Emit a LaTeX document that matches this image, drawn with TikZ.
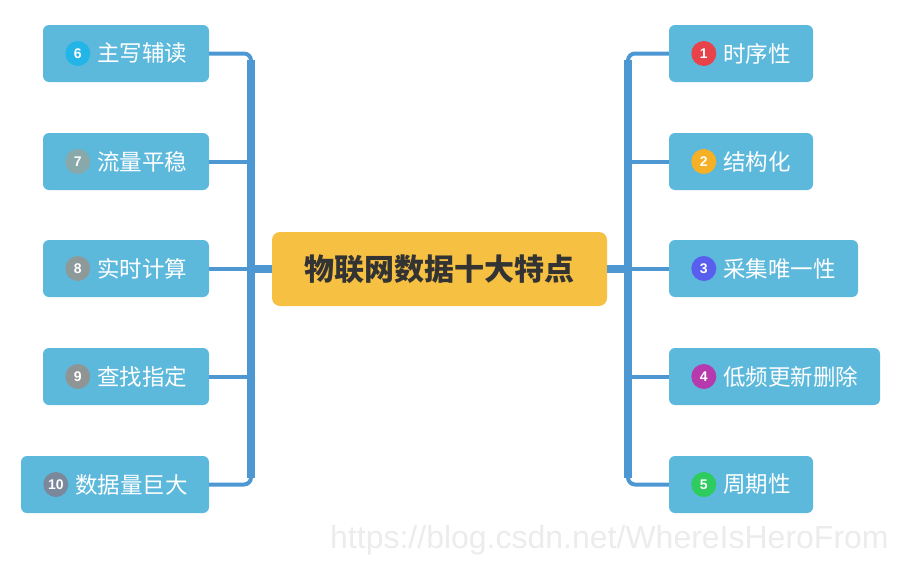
\documentclass[tikz,border=0pt]{standalone}
\usepackage{fontspec}
\setmainfont{Liberation Sans}
\newfontfamily\cjk{Noto Sans CJK SC}
\newfontfamily\wmfont{Liberation Sans}
\definecolor{boxfill}{HTML}{5DB9DC}
\definecolor{linec}{HTML}{4D97D2}
\definecolor{centfill}{HTML}{F6C142}
\definecolor{centtext}{HTML}{333333}
\definecolor{b1}{HTML}{E8424A}
\definecolor{b2}{HTML}{F5B025}
\definecolor{b3}{HTML}{5A5EEE}
\definecolor{b4}{HTML}{B63AAE}
\definecolor{b5}{HTML}{2ECC5E}
\definecolor{b6}{HTML}{24B5E8}
\definecolor{b7}{HTML}{88A8AA}
\definecolor{b8}{HTML}{8E9A9A}
\definecolor{b9}{HTML}{8F9595}
\definecolor{b10}{HTML}{7B879A}
\definecolor{wm}{HTML}{ECECEC}
\begin{document}
\begin{tikzpicture}[x=1pt,y=-1pt,
  childbox/.style={fill=boxfill, rounded corners=6pt, minimum height=57pt, inner sep=0pt},
  badge/.style={circle, minimum size=25pt, inner sep=0pt, text=white, font=\fontsize{14}{14}\selectfont\bfseries},
  label/.style={anchor=west, inner sep=0pt, text=white, font=\cjk\fontsize{22.5}{26}\selectfont},
  branch/.style={draw=linec, line width=4pt},
  bus/.style={draw=linec, line width=8pt},
]
\useasboundingbox (0,0) rectangle (899,565);
% center
\node[fill=centfill, rounded corners=8pt, minimum width=335pt, minimum height=74pt, inner sep=0pt,
  text=centtext, font=\cjk\fontsize{30}{34}\selectfont\bfseries] (ctr) at (439.5,269) {物联网数据十大特点};
% left boxes
\node[childbox, minimum width=166pt] (c6) at (126,53.5) {};
\node[childbox, minimum width=166pt] (c7) at (126,161.5) {};
\node[childbox, minimum width=166pt] (c8) at (126,268.5) {};
\node[childbox, minimum width=166pt] (c9) at (126,376.5) {};
\node[childbox, minimum width=188pt] (c10) at (115,484.5) {};
% right boxes
\node[childbox, minimum width=144pt] (c1) at (741,53.5) {};
\node[childbox, minimum width=144pt] (c2) at (741,161.5) {};
\node[childbox, minimum width=189pt] (c3) at (763.5,268.5) {};
\node[childbox, minimum width=211pt] (c4) at (774.5,376.5) {};
\node[childbox, minimum width=144pt] (c5) at (741,484.5) {};
% badges and labels
\foreach \n/\t in {1/时序性,2/结构化,3/采集唯一性,4/低频更新删除,5/周期性,6/主写辅读,7/流量平稳,8/实时计算,9/查找指定,10/数据量巨大}{
  \node[badge, fill=b\n] (bd\n) at ([xshift=35pt]c\n.west) {\n};
  \node[label] (lb\n) at ([xshift=54pt]c\n.west) {\t};
}
% bus coordinates
\coordinate (Lc) at (251,269);
\coordinate (Rc) at (628,269);
\coordinate (Lt) at (251,60);
\coordinate (Lb) at (251,478);
\coordinate (Rt) at (628,60);
\coordinate (Rb) at (628,478);
% left connectors
\draw[branch, rounded corners=7pt] (c6.east) -| (Lc) |- (c10.east);
\draw[bus] (Lt) -- (Lb);
\draw[branch] (c7.east) -- (c7.east -| Lc);
\draw[branch] (c8.east) -- (c8.east -| Lc);
\draw[branch] (c9.east) -- (c9.east -| Lc);
\draw[bus] (ctr.west) -- (Lc);
% right connectors
\draw[branch, rounded corners=7pt] (c1.west) -| (Rc) |- (c5.west);
\draw[bus] (Rt) -- (Rb);
\draw[branch] (c2.west) -- (c2.west -| Rc);
\draw[branch] (c3.west) -- (c3.west -| Rc);
\draw[branch] (c4.west) -- (c4.west -| Rc);
\draw[bus] (ctr.east) -- (Rc);
% watermark
\node[anchor=base west, inner sep=0pt, text=wm, font=\wmfont\fontsize{32}{36}\selectfont] (wmk) at (330,548) {https://blog.csdn.net/WhereIsHeroFrom};
\end{tikzpicture}
\end{document}
